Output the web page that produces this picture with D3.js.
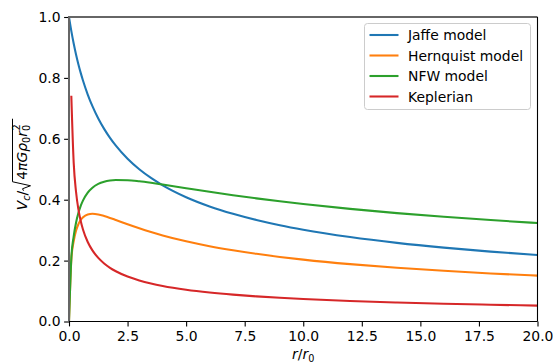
<!DOCTYPE html>
<html>
<head>
<meta charset="utf-8">
<script src="https://cdn.jsdelivr.net/npm/d3@7"></script>
<style>
  body { margin: 0; background: white; }
  text { font-family: "DejaVu Sans", sans-serif; }
</style>
</head>
<body>
<div id="chart"></div>
<script>
// radius values (r/r0) where the curves were read
let radius = [0, 0.1, 0.2, 0.3, 0.4, 0.5, 0.6, 0.8, 1.0, 1.25, 1.5, 1.75, 2, 2.5, 3, 3.5, 4, 5, 6, 7, 8, 9, 10, 12, 14, 16, 18, 20];

let jaffe = [1.0, 0.9535, 0.9129, 0.8771, 0.8452, 0.8165, 0.7906, 0.7454, 0.7071, 0.6667, 0.6325, 0.6030, 0.5774, 0.5345, 0.5, 0.4714, 0.4472, 0.4082, 0.3780, 0.3536, 0.3333, 0.3162, 0.3015, 0.2774, 0.2582, 0.2425, 0.2294, 0.2182];
let hernquist = [0, 0.2033, 0.2635, 0.2979, 0.3194, 0.3333, 0.3423, 0.3514, 0.3536, 0.3514, 0.3464, 0.3402, 0.3333, 0.3194, 0.3062, 0.2940, 0.2828, 0.2635, 0.2474, 0.2339, 0.2222, 0.2121, 0.2033, 0.1884, 0.1764, 0.1664, 0.1579, 0.1506];
let nfw = [0, 0.2098, 0.2798, 0.3245, 0.3562, 0.3798, 0.3979, 0.4233, 0.4395, 0.4520, 0.4592, 0.4631, 0.4647, 0.4641, 0.4605, 0.4555, 0.4498, 0.4378, 0.4260, 0.4148, 0.4044, 0.3948, 0.3858, 0.3699, 0.3560, 0.3439, 0.3331, 0.3234];
// keplerian has no value at r = 0
let keplerian = [null, 0.738, 0.5219, 0.4261, 0.3690, 0.3301, 0.3013, 0.2610, 0.2334, 0.2088, 0.1906, 0.1764, 0.1650, 0.1476, 0.1348, 0.1248, 0.1167, 0.1044, 0.0953, 0.0882, 0.0825, 0.0778, 0.0738, 0.0674, 0.0624, 0.0584, 0.0550, 0.0522];

let seriesNames = ['Jaffe model', 'Hernquist model', 'NFW model', 'Keplerian'];
let seriesColors = ['#1f77b4', '#ff7f0e', '#2ca02c', '#d62728'];
let xTicks = [0, 2.5, 5, 7.5, 10, 12.5, 15, 17.5, 20];
let yTicks = [0, 0.2, 0.4, 0.6, 0.8, 1.0];

let width = 553, height = 363;
let plot = { left: 69, right: 537.5, top: 17, bottom: 321.5 };
let fontSize = 13.9, subSize = 9.7;

let svg = d3.select('#chart')
  .append('svg')
  .attr('width', width)
  .attr('height', height);

let xScale = d3.scaleLinear().domain([0, 20]).range([plot.left, plot.right]);
let yScale = d3.scaleLinear().domain([0, 1]).range([plot.bottom, plot.top]);

// clip the curves to the axes box
svg.append('clipPath').attr('id', 'clip')
  .append('rect')
    .attr('x', plot.left).attr('y', plot.top)
    .attr('width', plot.right - plot.left).attr('height', plot.bottom - plot.top);

let line = d3.line()
  .defined(d => d[1] != null)
  .x(d => xScale(d[0]))
  .y(d => yScale(d[1]))
  .curve(d3.curveMonotoneX);

let allSeries = [jaffe, hernquist, nfw, keplerian];
let curves = svg.append('g').attr('clip-path', 'url(#clip)');
allSeries.forEach(function(values, i) {
  curves.append('path')
    .datum(radius.map((r, j) => [r, values[j]]))
    .attr('d', line)
    .attr('fill', 'none')
    .attr('stroke', seriesColors[i])
    .attr('stroke-width', 2.08)
    .attr('stroke-linejoin', 'round')
    .attr('stroke-linecap', 'square');
});

// x axis
let xAxis = d3.axisBottom(xScale)
  .tickValues(xTicks)
  .tickFormat(d3.format('.1f'))
  .tickSizeInner(4.9)
  .tickSizeOuter(0)
  .tickPadding(4.5);
let gx = svg.append('g')
  .attr('transform', `translate(0, ${plot.bottom})`)
  .call(xAxis);
gx.select('.domain').remove();
gx.selectAll('text').attr('font-size', fontSize).attr('fill', '#000').attr('font-family', 'DejaVu Sans');
gx.selectAll('line').attr('stroke', '#000').attr('stroke-width', 1.1);

// y axis
let yAxis = d3.axisLeft(yScale)
  .tickValues(yTicks)
  .tickFormat(d3.format('.1f'))
  .tickSizeInner(4.9)
  .tickSizeOuter(0)
  .tickPadding(3.5);
let gy = svg.append('g')
  .attr('transform', `translate(${plot.left}, 0)`)
  .call(yAxis);
gy.select('.domain').remove();
gy.selectAll('text').attr('font-size', fontSize).attr('fill', '#000').attr('font-family', 'DejaVu Sans');
gy.selectAll('line').attr('stroke', '#000').attr('stroke-width', 1.1);

// spines (left and top look grey and soft in the reference)
svg.append('line').attr('x1', plot.left).attr('x2', plot.left).attr('y1', plot.top - 1).attr('y2', plot.bottom + 0.5).attr('stroke', '#666').attr('stroke-width', 2);
svg.append('line').attr('x1', plot.left).attr('x2', plot.right).attr('y1', plot.top).attr('y2', plot.top).attr('stroke', '#666').attr('stroke-width', 2);
svg.append('line').attr('x1', plot.right).attr('x2', plot.right).attr('y1', plot.top).attr('y2', plot.bottom).attr('stroke', '#000').attr('stroke-width', 1.1);
svg.append('line').attr('x1', plot.left).attr('x2', plot.right).attr('y1', plot.bottom).attr('y2', plot.bottom).attr('stroke', '#000').attr('stroke-width', 1.1);

// x label: r / r0
let xl = svg.append('text')
  .attr('x', (plot.left + plot.right) / 2)
  .attr('y', 359)
  .attr('text-anchor', 'middle')
  .attr('font-size', fontSize);
xl.append('tspan').attr('font-style', 'italic').text('r');
xl.append('tspan').text('/');
xl.append('tspan').attr('font-style', 'italic').text('r');
xl.append('tspan').attr('font-size', subSize).attr('dy', 3).text('0');

// y label: V_c / sqrt(4 pi G rho0 r0^2)
let yl = svg.append('g')
  .attr('transform', `translate(27, 165) rotate(-90)`);
let left = yl.append('text').attr('font-size', fontSize).attr('y', 0);
left.append('tspan').attr('font-style', 'italic').text('V');
left.append('tspan').attr('font-style', 'italic').attr('font-size', subSize).attr('dy', 3).text('c');
left.append('tspan').attr('dy', -3).text('/');
let inner = yl.append('text').attr('font-size', fontSize).attr('y', 0);
inner.append('tspan').text('4');
inner.append('tspan').attr('font-style', 'italic').text('πGρ');
inner.append('tspan').attr('font-size', subSize).attr('dy', 3).text('0');
inner.append('tspan').attr('font-style', 'italic').attr('font-size', fontSize).attr('dy', -3).text('r');
inner.append('tspan').attr('font-size', subSize).attr('dy', 3).text('0');
inner.append('tspan').attr('font-size', subSize).attr('dx', -5.5).attr('dy', -10).text('2');

let wLeft = left.node().getComputedTextLength();
let wInner = inner.node().getComputedTextLength();
let radW = 10;
let total = wLeft + radW + wInner;
left.attr('x', -total / 2);
inner.attr('x', -total / 2 + wLeft + radW + 1);
let rx = -total / 2 + wLeft;
yl.append('path')
  .attr('d', `M${rx},-3.5 L${rx + 2},-4.5 L${rx + 5},3.5 L${rx + 9},-14.5 L${rx + radW + wInner + 1},-14.5`)
  .attr('fill', 'none')
  .attr('stroke', '#000')
  .attr('stroke-width', 1);

// legend
let legend = svg.append('g');
legend.append('rect')
  .attr('x', 364.5).attr('y', 23.5)
  .attr('width', 166).attr('height', 86)
  .attr('rx', 3)
  .attr('fill', 'white').attr('fill-opacity', 0.8)
  .attr('stroke', '#cccccc');
seriesNames.forEach(function(name, i) {
  let cy = 35 + i * 20.5;
  legend.append('line')
    .attr('x1', 369.5).attr('x2', 398.5)
    .attr('y1', cy).attr('y2', cy)
    .attr('stroke', seriesColors[i])
    .attr('stroke-width', 2.08);
  legend.append('text')
    .attr('x', 408)
    .attr('y', cy + 5)
    .attr('font-size', fontSize)
    .text(name);
});
</script>
</body>
</html>
